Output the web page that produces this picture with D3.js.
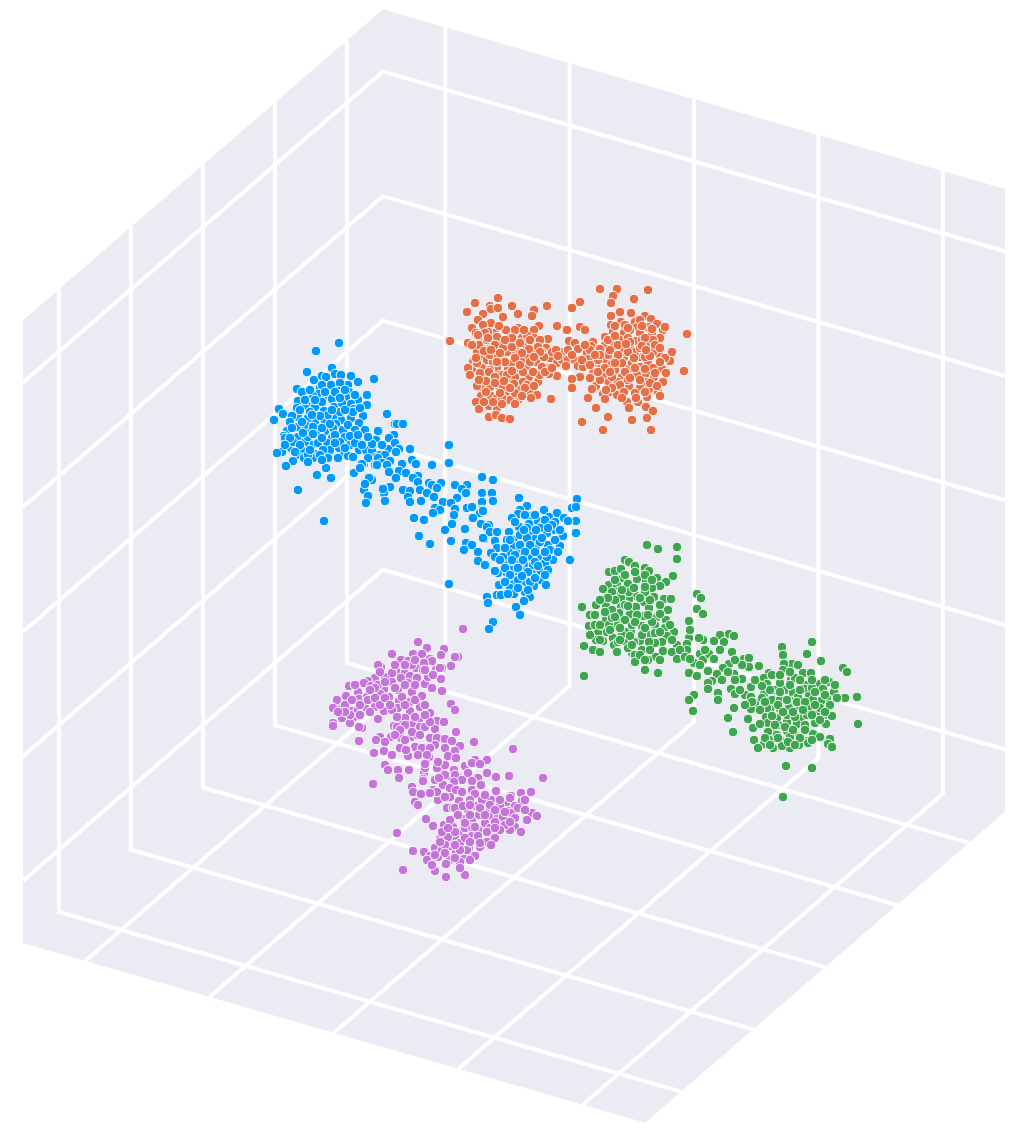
<!DOCTYPE html>
<html>
  <head>
    <meta charset="utf-8">
    <title>3D clusters</title>
    <script src="https://d3js.org/d3.v7.min.js"></script>
    <style>
      html, body { margin: 0; padding: 0; background: #fff; }
      svg { display: block; }
    </style>
  </head>
  <body>
    <div id="chart"></div>
    <script>
      var width = 1017;
      var height = 1133;

      // grid ticks, same on all three axes
      var xTicks = [-4, -2, 0, 2, 4];
      var yTicks = [-4, -2, 0, 2, 4];
      var zTicks = [-4, -2, 0, 2, 4];
      var axisRange = [-5, 5];

      // points, [across, down] on the view plane
      var orange = [[498,298],[475,303],[467,312],[490,306],[491,309],[498,308],[512,306],[534,310],[547,306],[483,314],[503,317],[518,314],[532,316],[478,320],[491,323],[483,325],[518,328],[557,326],[566,330],[539,326],[534,330],[472,328],[476,333],[495,333],[488,332],[508,335],[450,341],[468,343],[481,340],[502,342],[491,344],[534,338],[548,339],[526,345],[546,348],[483,349],[497,350],[513,354],[534,352],[477,352],[484,358],[473,362],[520,352],[522,360],[550,358],[557,363],[536,362],[497,368],[508,368],[518,368],[472,369],[468,368],[528,367],[547,368],[542,367],[484,374],[500,375],[529,377],[557,376],[549,374],[490,379],[509,382],[497,385],[481,388],[477,386],[519,388],[538,382],[530,391],[537,395],[509,393],[490,395],[481,396],[497,398],[519,399],[531,398],[551,399],[476,402],[489,406],[479,409],[497,408],[510,400],[489,417],[496,415],[502,418],[510,419],
        [487,360],[493,362],[503,358],[512,363],[528,355],[507,352],[490,355],[498,357],[517,345],[510,343],[522,338],[482,368],[490,370],[477,363],[503,375],[515,377],[523,382],[503,387],[490,387],[515,393],[502,398],[527,385],[540,375],[497,337],[485,333],[515,330],[527,335],[540,340],[552,352],[542,352],[563,352],[568,350],[562,360],
        [479,345],[487,340],[495,345],[503,348],[512,347],[520,343],[529,349],[538,347],[544,357],[530,362],[522,353],[515,358],[505,362],[497,362],[484,351],[476,358],[480,373],[489,372],[495,377],[507,375],[512,371],[523,372],[533,372],[545,372],[552,368],[486,381],[495,383],[504,381],[514,384],[525,388],[534,386],[486,392],[500,393],[510,388],[522,396],[506,330],[499,326],[512,338],[524,330],[488,338],[478,335],[505,340],[530,340],[540,352],[556,350],[568,360],[502,404],[493,402],[515,404],[484,402],[472,345],[470,375],[479,380],[520,365],[500,353],[491,350],[534,357],[558,356],[575,360],[566,366],
        [600,289],[617,289],[648,290],[613,296],[611,303],[634,299],[580,302],[572,308],[620,312],[631,313],[611,316],[645,316],[651,319],[621,322],[635,322],[611,325],[657,324],[648,327],[637,327],[580,327],[585,330],[567,330],[663,330],[665,327],[613,332],[624,333],[640,333],[687,334],[652,335],[660,338],[605,337],[620,340],[636,341],[569,341],[575,343],[593,342],[591,346],[605,345],[630,347],[648,345],[578,349],[568,350],[600,349],[617,348],[587,353],[672,352],[659,354],[624,357],[639,357],[589,359],[606,361],[670,361],[578,366],[596,363],[612,364],[648,363],[600,369],[628,369],[662,369],[684,371],[615,370],[646,374],[593,373],[666,373],[580,377],[654,377],[572,379],[608,381],[645,382],[663,382],[596,386],[572,388],[629,386],[616,389],[640,388],[649,389],[658,392],[592,389],[610,392],[603,394],[635,393],[617,395],[660,396],[588,398],[605,399],[647,397],[627,402],[638,402],[596,408],[629,408],[646,407],[653,411],[608,417],[647,418],[582,422],[632,420],[603,430],[651,430],
        [622,363],[632,363],[640,367],[622,352],[635,352],[645,357],[653,352],[613,357],[608,355],[653,368],[637,375],[622,377],[603,375],[628,380],[618,382],[642,340],[653,340],[613,343],[625,325],[640,320],[630,330],[590,350],[572,355],[583,367],[582,360],[598,360],
        [615,326],[628,328],[642,326],[652,329],[608,340],[615,336],[628,338],[645,338],[655,345],[600,355],[610,350],[618,355],[628,352],[640,348],[650,356],[660,348],[665,358],[605,368],[615,363],[625,372],[635,368],[645,369],[655,373],[660,362],[612,377],[620,385],[630,378],[640,380],[650,383],[657,386],[600,380],[612,388],[624,392],[636,398],[645,392],[622,398],[590,365],[595,355],[585,345],[598,372],[606,390],[618,345],[630,342],[642,346],[634,358],[646,350],[626,344],[610,372],[590,378]];

      var blue = [[339,343],[316,351],[307,372],[332,368],[335,374],[341,375],[351,376],[374,379],[314,380],[322,376],[326,377],[358,382],[297,389],[302,392],[331,385],[348,385],[320,388],[340,383],[338,391],[349,392],[367,395],[319,394],[326,397],[298,401],[313,396],[332,399],[358,400],[346,397],[367,405],[351,404],[334,407],[279,409],[307,406],[324,411],[354,409],[283,414],[297,408],[387,414],[298,417],[315,421],[363,416],[351,418],[341,420],[274,420],[333,417],[292,416],[308,418],[359,423],[325,422],[336,424],[298,427],[395,424],[318,432],[343,430],[379,431],[287,431],[307,428],[325,431],[284,436],[298,437],[332,438],[358,435],[345,437],[368,438],[393,435],[389,438],[287,442],[312,445],[327,443],[358,442],[376,440],[305,442],[382,445],[291,448],[339,448],[359,450],[366,450],[372,451],[388,449],[302,450],[330,450],[282,452],[277,453],[315,454],[297,455],[344,455],[348,456],[353,457],[304,458],[313,458],[328,458],[376,457],[293,461],[390,461],[381,463],[286,466],[364,464],[361,468],[326,468],[376,466],[317,475],[331,478],[354,473],[390,472],[369,477],[372,480],[395,478],[365,483],[390,487],[298,490],[364,490],[383,488],[384,493],[368,496],[385,501],[366,503],[324,521],
        [305,408],[315,407],[322,402],[342,403],[340,412],[328,415],[305,425],[313,427],[333,428],[318,443],[308,437],[293,442],[350,445],[340,442],[323,450],[308,455],[285,438],
        [310,390],[322,385],[335,392],[345,390],[355,395],[305,400],[315,400],[325,392],[340,398],[353,412],[360,408],[300,410],[310,412],[320,416],[332,410],[345,410],[290,422],[302,422],[312,415],[322,428],[330,424],[348,425],[355,430],[292,428],[303,433],[313,434],[322,438],[335,435],[350,436],[365,430],[290,438],[300,445],[310,450],[320,455],[335,443],[345,448],[355,443],[285,445],[295,452],[308,462],[322,460],[338,458],[362,445],[372,444],[380,455],[368,458],[385,455],[375,465],
        [397,424],[403,424],[378,431],[394,435],[368,437],[358,435],[389,438],[382,445],[395,443],[449,445],[399,449],[410,449],[396,452],[378,458],[412,460],[416,464],[432,465],[449,463],[390,461],[382,463],[402,464],[377,465],[387,465],[362,464],[360,468],[399,471],[389,472],[406,473],[482,477],[418,476],[413,478],[396,478],[369,478],[493,480],[418,482],[365,484],[467,485],[429,483],[441,483],[455,485],[432,485],[437,488],[403,490],[462,489],[383,489],[420,490],[410,491],[466,493],[427,493],[482,493],[491,493],[408,497],[434,497],[457,498],[410,502],[421,501],[443,502],[482,502],[451,503],[471,507],[467,508],[455,509],[482,510],[435,508],[440,510],[433,513],[454,515],[414,518],[424,520],[472,518],[480,513],[452,524],[481,524],[489,532],[445,530],[465,529],[419,536],[451,541],[484,539],[430,544],[466,543],[472,545],[464,550],[478,552],[491,553],[478,561],[486,565],[449,584],[487,597],[495,572],
        [519,498],[577,499],[492,493],[493,501],[527,506],[572,508],[576,507],[520,510],[544,510],[483,511],[557,513],[472,507],[518,514],[530,516],[512,518],[549,517],[564,518],[576,521],[473,518],[555,522],[568,521],[481,524],[538,521],[529,524],[519,527],[543,525],[489,525],[487,527],[553,530],[531,531],[490,532],[509,532],[576,533],[497,532],[547,533],[483,538],[536,538],[517,539],[563,536],[507,540],[495,541],[523,545],[548,545],[514,546],[560,546],[536,546],[497,548],[550,550],[510,553],[491,553],[538,557],[495,557],[570,560],[553,560],[507,562],[527,557],[485,565],[513,562],[526,566],[545,563],[521,570],[540,571],[498,573],[495,571],[515,573],[532,574],[540,580],[510,580],[526,582],[514,584],[546,585],[499,585],[534,586],[510,588],[525,592],[497,595],[514,594],[501,595],[530,597],[524,601],[488,603],[516,607],[520,615],[493,622],[489,629],
        [520,535],[527,538],[540,542],[518,553],[532,557],[547,557],[520,563],[533,565],[503,557],[512,570],[518,580],[507,573],[527,528],[540,528],
        [525,515],[535,515],[545,520],[552,525],[515,522],[524,530],[536,530],[548,528],[560,530],[510,540],[520,545],[530,545],[542,538],[555,540],[505,548],[515,555],[525,552],[535,552],[545,552],[558,552],[500,560],[512,560],[523,560],[535,562],[548,570],[505,568],[518,568],[528,572],[538,566],[510,575],[522,576],[530,582],[505,582],[518,588],[508,594],[535,578],[545,575],[528,590]];

      var green = [[647,545],[658,549],[677,547],[677,559],[625,560],[629,562],[635,566],[609,572],[615,571],[621,569],[645,568],[649,571],[673,576],[623,578],[637,579],[646,581],[657,578],[666,582],[609,585],[617,585],[628,584],[660,586],[603,589],[652,588],[619,591],[609,596],[636,596],[629,599],[621,598],[664,599],[671,599],[697,594],[644,602],[654,597],[701,598],[582,607],[596,605],[606,606],[636,607],[621,607],[697,609],[703,614],[668,610],[619,613],[590,615],[630,614],[657,617],[606,620],[666,620],[644,616],[621,622],[589,626],[595,625],[642,626],[689,621],[690,631],[665,628],[607,632],[631,632],[598,633],[674,632],[616,625],[650,635],[613,638],[667,636],[689,638],[603,641],[625,641],[596,640],[640,641],[662,642],[703,640],[655,643],[614,645],[677,645],[687,644],[584,646],[593,650],[600,652],[642,650],[617,652],[687,650],[663,651],[672,652],[700,654],[632,653],[635,655],[656,657],[677,659],[691,659],[703,660],[635,662],[648,660],[694,663],[645,670],[658,673],[689,672],[584,676],[697,676],
        [625,605],[612,610],[649,608],[637,615],[655,625],[625,632],[652,622],[642,635],[632,625],[609,625],[622,635],[649,642],[629,592],[645,592],[634,642],[612,618],
        [615,580],[625,575],[635,572],[645,575],[652,580],[612,592],[622,590],[634,588],[645,587],[615,600],[628,606],[640,598],[650,600],[660,605],[605,612],[615,617],[625,620],[635,622],[648,615],[660,614],[600,625],[610,630],[620,628],[630,636],[645,628],[655,633],[670,625],[600,640],[618,642],[628,648],[650,650],[660,632],[672,640],[640,655],[620,640],[632,645],[608,598],[600,600],[595,615],[590,635],[680,650],[685,657],[660,660],[645,660],
        [690,630],[729,634],[720,635],[734,636],[699,638],[714,641],[724,642],[812,642],[782,647],[720,650],[732,652],[807,654],[709,654],[690,659],[714,659],[744,659],[749,658],[783,655],[821,661],[729,664],[749,667],[759,666],[792,664],[784,664],[798,665],[723,668],[708,671],[843,668],[847,672],[717,674],[689,673],[697,676],[734,674],[769,673],[783,670],[803,673],[811,673],[742,679],[791,680],[764,678],[712,681],[708,683],[829,682],[820,684],[805,685],[751,687],[767,684],[708,689],[731,689],[834,692],[775,690],[786,690],[805,689],[823,689],[735,694],[694,695],[718,693],[764,694],[745,695],[751,697],[857,697],[845,698],[809,696],[793,693],[837,698],[827,698],[689,700],[718,700],[772,700],[792,701],[821,701],[755,703],[800,707],[811,707],[789,708],[770,709],[734,708],[693,711],[751,709],[780,709],[824,715],[832,716],[802,718],[766,717],[728,718],[748,719],[779,725],[768,723],[787,722],[797,724],[815,723],[826,724],[858,724],[753,728],[772,731],[787,731],[733,732],[813,734],[796,736],[768,732],[754,740],[771,740],[780,740],[807,741],[820,737],[830,739],[828,744],[832,747],[764,744],[758,748],[773,748],[790,748],[782,746],[808,743],[799,745],[786,766],[812,768],[783,797],
        [795,678],[780,683],[798,697],[813,700],[780,700],[767,708],[787,715],[807,715],[777,718],[795,717],[817,713],[805,725],[790,737],[777,735],[762,698],[820,708],[812,688],
        [772,675],[780,675],[790,672],[800,680],[812,680],[825,680],[770,690],[780,692],[790,685],[800,690],[815,692],[825,695],[835,685],[762,686],[765,702],[778,705],[787,700],[797,702],[805,702],[815,705],[830,705],[760,710],[772,716],[783,712],[793,712],[803,710],[812,715],[825,712],[760,724],[775,725],[785,727],[793,730],[805,730],[820,720],[765,738],[778,738],[788,742],[800,738],[812,740],[795,745],[770,745],[752,702],[745,705],[740,690],[755,680],[742,665],[735,660],[728,672],[722,680],[700,665],[705,650],[735,680]];

      var purple = [[463,629],[418,642],[427,648],[444,649],[392,654],[413,654],[422,654],[441,655],[458,657],[455,657],[401,660],[408,661],[430,659],[432,661],[381,667],[378,665],[424,663],[416,668],[451,666],[423,670],[436,670],[396,671],[442,668],[405,673],[375,678],[385,677],[401,678],[410,676],[441,679],[368,681],[364,683],[392,682],[425,684],[349,686],[371,686],[384,689],[432,688],[412,692],[358,692],[442,691],[398,690],[346,696],[372,694],[380,694],[389,697],[422,696],[337,700],[359,699],[399,701],[365,707],[451,704],[420,707],[375,707],[333,708],[342,708],[384,711],[410,711],[455,710],[352,711],[398,708],[430,713],[342,718],[354,717],[399,719],[378,719],[419,719],[437,721],[333,723],[333,726],[350,723],[394,726],[412,725],[444,722],[362,728],[420,727],[359,727],[435,729],[397,727],[456,732],[391,737],[401,738],[411,737],[430,738],[417,735],[437,738],[445,739],[380,737],[376,740],[359,741],[452,741],[474,742],[415,747],[422,748],[460,746],[400,748],[407,750],[384,751],[455,751],[374,753],[392,755],[447,756],[408,756],[429,757],[456,759],[426,763],[385,765],[465,766],[471,763],[388,770],[398,770],[409,770],[440,770],[454,770],[424,773],[468,773],[448,776],[399,778],[423,779],[458,777],
        [358,710],[367,697],[378,685],[392,673],[412,665],[402,697],[410,702],[392,710],[405,718],[415,717],[408,683],[417,678],[428,677],[397,717],[425,727],
        [345,705],[352,700],[360,705],[368,700],[375,698],[350,715],[360,715],[370,712],[380,705],[385,698],[375,688],[385,682],[395,688],[405,685],[415,685],[395,665],[405,665],[415,660],[425,670],[433,675],[440,668],[380,672],[370,690],[355,685],[345,712],[338,712],[390,705],[405,705],[415,700],[425,705],[405,725],[412,732],[400,730],[405,740],[420,735],[430,722],[425,715],[395,735],[385,742],[435,745],[445,748],[430,748],[418,755],[425,768],[437,768],[445,765],[455,775],[435,780],[445,775],[462,780],[433,790],[443,785],[450,797],[438,800],
        [513,749],[406,750],[427,755],[448,756],[456,758],[475,760],[487,760],[472,763],[438,762],[480,764],[425,764],[487,773],[496,777],[509,776],[543,778],[439,778],[478,778],[423,781],[454,782],[472,781],[373,784],[481,785],[412,787],[450,788],[413,792],[456,790],[496,791],[472,790],[421,794],[437,792],[475,794],[531,792],[511,796],[521,793],[430,793],[445,797],[462,792],[491,800],[459,801],[522,801],[415,802],[418,805],[507,805],[500,806],[447,808],[453,808],[475,806],[515,806],[468,810],[508,811],[532,813],[479,815],[490,810],[537,816],[492,816],[464,819],[426,819],[527,820],[472,821],[508,820],[498,824],[433,826],[444,825],[453,827],[483,829],[515,827],[521,832],[510,830],[462,832],[397,833],[472,836],[440,839],[495,838],[487,842],[477,840],[455,838],[435,848],[451,846],[491,845],[469,848],[413,851],[424,852],[467,850],[456,853],[430,856],[438,857],[475,856],[427,860],[450,860],[464,859],[460,862],[446,864],[403,870],[435,871],[465,875],[446,877],
        [498,815],[485,823],[478,830],[465,828],[448,837],[460,843],[480,847],[472,827],[512,813],[503,817],[490,828],[442,850],[455,858],
        [455,808],[463,806],[470,800],[482,800],[490,805],[500,800],[510,798],[518,808],[525,810],[470,815],[480,808],[495,810],[505,812],[515,818],[525,800],[458,815],[465,823],[475,827],[485,815],[495,822],[505,825],[510,822],[450,820],[442,832],[455,832],[465,838],[478,836],[487,832],[500,830],[445,845],[460,850],[470,842],[480,843],[435,855],[445,853],[455,845],[448,828],[440,842],[460,868],[470,860],[432,865],[495,828],[470,805],[485,795]];

      var seriesColors = ['#E76F47', '#0099FF', '#3DA64E', '#C575D9'];

      var svg = d3.select('#chart')
        .append('svg')
        .attr('width', width)
        .attr('height', height);

      // the cube: each axis runs along its own direction on screen
      var xAcross = d3.scaleLinear().domain(axisRange).range([0, 622]);
      var xDown = d3.scaleLinear().domain(axisRange).range([0, 179.7]);
      var yAcross = d3.scaleLinear().domain(axisRange).range([0, -360]);
      var yDown = d3.scaleLinear().domain(axisRange).range([0, 311]);
      var zDown = d3.scaleLinear().domain(axisRange).range([0, -622.7]);

      function project(p) {
        return [383 + xAcross(p[0]) + yAcross(p[1]),
                632 + xDown(p[0]) + yDown(p[1]) + zDown(p[2])];
      }

      var line = d3.line();
      var lo = axisRange[0];
      var hi = axisRange[1];

      // outline of the three walls
      var outline = [[lo, lo, hi], [hi, lo, hi], [hi, lo, lo], [hi, hi, lo], [lo, hi, lo], [lo, hi, hi]];
      svg.append('path')
        .attr('d', line(outline.map(project)) + 'Z')
        .attr('fill', '#EAEBF3');

      // grid lines bend where they pass from one wall to the next
      var gridPaths = [];
      xTicks.forEach(function(t) {
        gridPaths.push([[t, lo, hi], [t, lo, lo], [t, hi, lo]]);
      });
      yTicks.forEach(function(t) {
        gridPaths.push([[lo, t, hi], [lo, t, lo], [hi, t, lo]]);
      });
      zTicks.forEach(function(t) {
        gridPaths.push([[lo, hi, t], [lo, lo, t], [hi, lo, t]]);
      });

      svg.append('g')
        .selectAll('path')
        .data(gridPaths)
        .enter()
        .append('path')
        .attr('d', function(d) { return line(d.map(project)); })
        .attr('fill', 'none')
        .attr('stroke', '#fff')
        .attr('stroke-width', 4);

      // points are already on the view plane
      var planeX = d3.scaleLinear().domain([0, 1017]).range([0, width]);
      var planeY = d3.scaleLinear().domain([0, 1133]).range([0, height]);

      [orange, blue, green, purple].forEach(function(series, i) {
        svg.append('g')
          .selectAll('circle')
          .data(series)
          .enter()
          .append('circle')
          .attr('cx', function(d) { return planeX(d[0]); })
          .attr('cy', function(d) { return planeY(d[1]); })
          .attr('r', 4.8)
          .attr('fill', seriesColors[i])
          .attr('stroke', '#fff')
          .attr('stroke-width', 1);
      });
    </script>
  </body>
</html>
